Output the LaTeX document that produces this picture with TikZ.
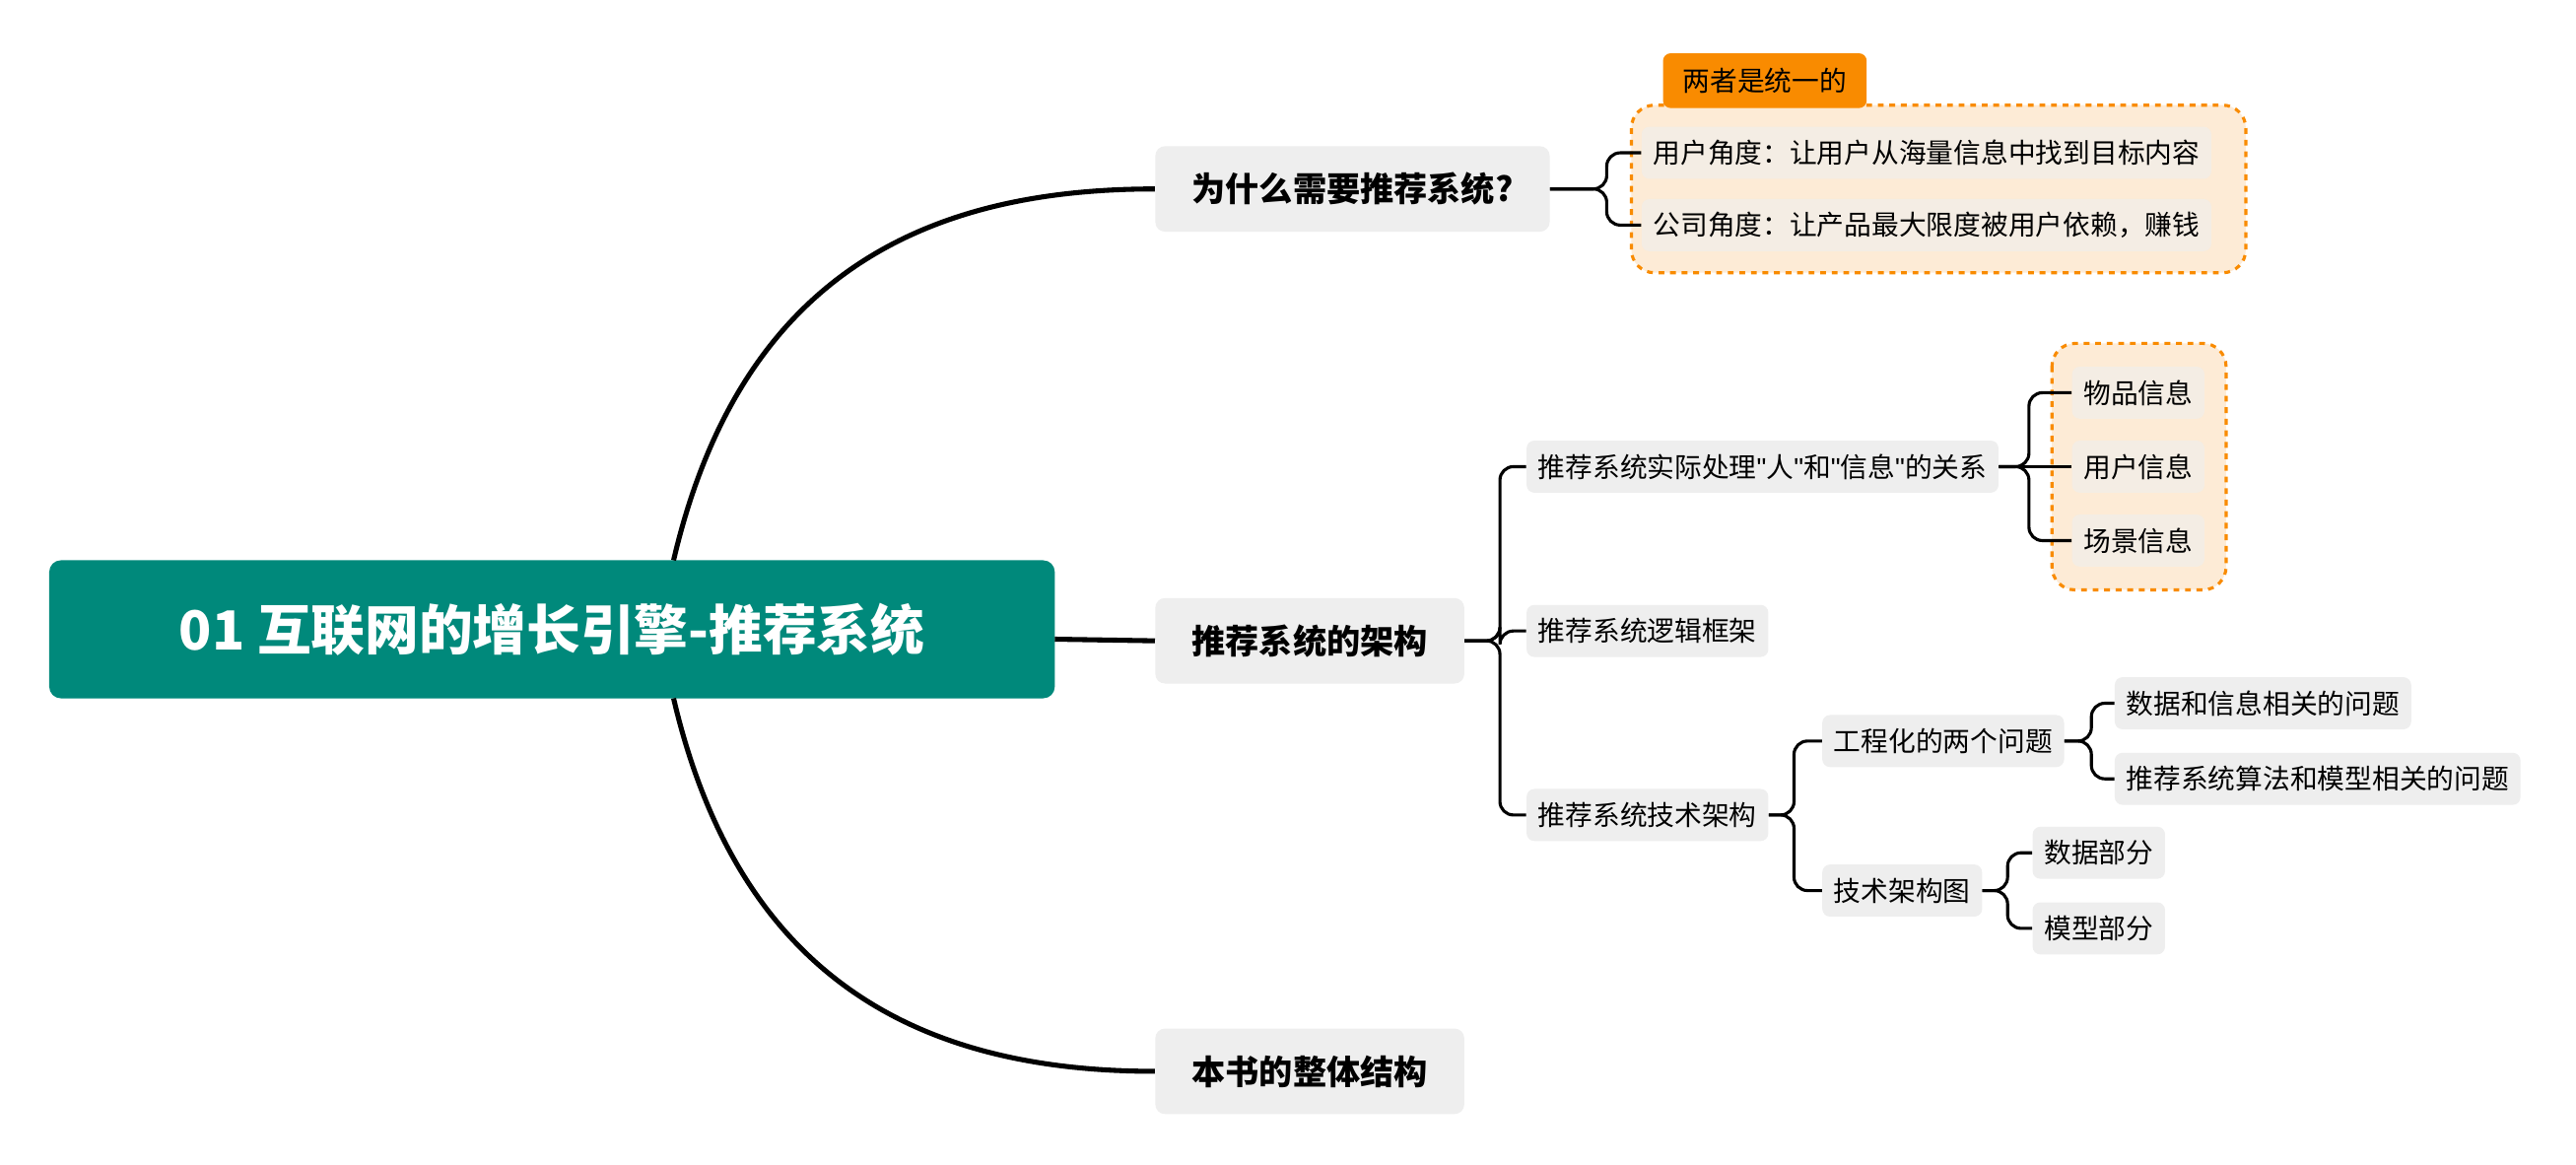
\documentclass[tikz,border=0pt]{standalone}
\usepackage{fontspec}
\setmainfont{Noto Sans CJK SC}
\newfontfamily\latinq{Liberation Sans}
\usetikzlibrary{calc}
\definecolor{teal1}{RGB}{0,137,123}
\definecolor{gbox}{RGB}{238,238,238}
\definecolor{ora}{RGB}{249,139,0}
\definecolor{oral}{RGB}{253,235,214}
\tikzset{
 sm/.style={fill=gbox,rounded corners=4,inner xsep=6pt,anchor=west,minimum height=0.95cm,font=\fontsize{14.2}{16}\selectfont},
 lv1/.style={fill=gbox,rounded corners=5,inner xsep=19pt,anchor=west,minimum height=1.56cm,font=\fontsize{17.5}{19}\selectfont\bfseries},
 conn/.style={line width=1.6pt,rounded corners=7},
 big/.style={line width=2.6pt},
 grp/.style={draw=ora,dashed,line width=1.6pt,fill=oral,rounded corners=12}
}
\begin{document}
\begin{tikzpicture}[x=0.03cm,y=-0.03cm]
\useasboundingbox[fill=white] (0,0) rectangle (1568,709);
\draw[grp] (993,64) rectangle (1367,166);
\node[fill=ora,rounded corners=4,minimum width=3.72cm,minimum height=1.0cm,font=\fontsize{14.2}{16}\selectfont,anchor=south west] (tag) at (1012,66) {两者是统一的};
\draw[grp] (1249,209) rectangle (1355,359);
\node[fill=teal1,rounded corners=6,minimum width=18.36cm,minimum height=2.52cm,text=white,font=\fontsize{28}{32}\selectfont\bfseries] (root) at (336,383) {01 互联网的增长引擎-推荐系统};
\node[lv1] (a) at (703,115) {为什么需要推荐系统?};
\node[lv1] (b) at (703,390) {推荐系统的架构};
\node[lv1] (c) at (703,652) {本书的整体结构};
\coordinate (r1) at (410,341);
\coordinate (r2) at (642,389);
\coordinate (r3) at (410,425);
\draw[big] (r1) .. controls (450,170) and (560,115) .. (a.west);
\draw[big] (r2) -- (b.west);
\draw[big] (r3) .. controls (450,596) and (560,652) .. (c.west);
\node[sm,fill=gbox!60!oral] (a1) at (999,93) {用户角度：让用户从海量信息中找到目标内容};
\node[sm,fill=gbox!60!oral] (a2) at (999,137) {公司角度：让产品最大限度被用户依赖，赚钱};
\coordinate (fa) at (978,115);
\draw[conn] (a.east) -- (fa) |- (a1.west);
\draw[conn] (a.east) -- (fa) |- (a2.west);
\node[sm] (b1) at (929,284) {推荐系统实际处理{\latinq"}人{\latinq"}和{\latinq"}信息{\latinq"}的关系};
\node[sm] (b2) at (929,384) {推荐系统逻辑框架};
\node[sm] (b3) at (929,496) {推荐系统技术架构};
\coordinate (fb) at (913,390);
\draw[conn] (b.east) -- (fb) |- (b1.west);
\draw[conn] (b.east) -- (fb) |- (b2.west);
\draw[conn] (b.east) -- (fb) |- (b3.west);
\node[sm,fill=gbox!60!oral] (c1) at (1261,239) {物品信息};
\node[sm,fill=gbox!60!oral] (c2) at (1261,284) {用户信息};
\node[sm,fill=gbox!60!oral] (c3) at (1261,329) {场景信息};
\coordinate (fc) at (1235,284);
\draw[conn] (b1.east) -- (fc) |- (c1.west);
\draw[conn] (b1.east) -- (c2.west);
\draw[conn] (b1.east) -- (fc) |- (c3.west);
\node[sm] (d1) at (1109,451) {工程化的两个问题};
\node[sm] (d2) at (1109,542) {技术架构图};
\coordinate (fd) at (1092,496);
\draw[conn] (b3.east) -- (fd) |- (d1.west);
\draw[conn] (b3.east) -- (fd) |- (d2.west);
\node[sm] (e1) at (1287,428) {数据和信息相关的问题};
\node[sm] (e2) at (1287,474) {推荐系统算法和模型相关的问题};
\coordinate (fe) at (1273,451);
\draw[conn] (d1.east) -- (fe) |- (e1.west);
\draw[conn] (d1.east) -- (fe) |- (e2.west);
\node[sm] (g1) at (1237,519) {数据部分};
\node[sm] (g2) at (1237,565) {模型部分};
\coordinate (fg) at (1222,542);
\draw[conn] (d2.east) -- (fg) |- (g1.west);
\draw[conn] (d2.east) -- (fg) |- (g2.west);
\end{tikzpicture}
\end{document}
